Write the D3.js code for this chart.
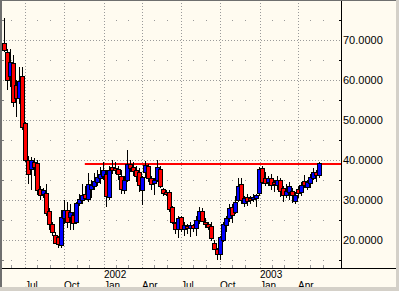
<!DOCTYPE html>
<html>
<head>
<meta charset="utf-8">
<script src="https://cdn.jsdelivr.net/npm/d3@7/dist/d3.min.js"></script>
<style>
  html, body { margin: 0; padding: 0; background: #d4d0c8; }
  svg { display: block; }
  text { font-family: "Liberation Sans", Arial, sans-serif; font-size: 11px; fill: #000; }
  text.qlabel, text.ylabel { font-size: 10px; }
</style>
</head>
<body>
<div id="chart"></div>
<script>
// weekly bars, first one on the week of 14 May 2001
const firstWeek = new Date(2001, 4, 14);

const opens = [
  69.3, 67.0, 61.0, 64.2, 58.7, 55.5, 61.0, 49.2, 40.0, 37.7,
  39.5, 39.2, 32.7, 31.5, 31.7, 27.2, 24.0, 21.2, 20.7, 18.7,
  25.5, 27.5, 25.7, 26.2, 24.5, 29.2, 30.0, 31.5, 30.2, 32.7,
  33.5, 34.5, 35.5, 36.0, 36.5, 30.7, 38.2, 38.0, 37.7, 36.0,
  32.5, 35.0, 39.0, 38.2, 37.5, 37.0, 32.5, 37.0, 38.5, 35.5,
  34.2, 35.0, 37.7, 32.7, 32.0, 32.0, 28.2, 24.2, 22.7, 25.7,
  22.7, 23.5, 23.0, 23.7, 23.0, 25.0, 27.2, 24.5, 24.0, 23.5,
  19.2, 17.7, 16.5, 20.0, 23.7, 25.5, 28.2, 27.0, 30.0, 34.0,
  29.2, 30.7, 30.5, 30.2, 30.5, 31.7, 38.0, 35.5, 34.5, 35.5,
  34.5, 33.7, 35.0, 33.0, 31.2, 32.0, 32.2, 29.7, 32.7, 32.0,
  34.7, 33.2, 34.2, 35.5, 37.0, 36.2
];
const highs = [
  75.5, 67.7, 67.7, 66.2, 60.0, 63.3, 63.3, 49.5, 41.0, 40.7,
  40.5, 40.0, 33.5, 33.0, 34.0, 28.0, 24.5, 22.0, 21.0, 27.5,
  30.0, 29.5, 29.0, 27.0, 29.5, 31.5, 34.0, 33.5, 36.7, 35.0,
  36.7, 37.5, 38.2, 39.5, 37.5, 38.5, 40.0, 39.5, 38.5, 37.5,
  36.0, 42.5, 40.0, 39.5, 38.5, 38.0, 36.0, 39.7, 39.0, 36.0,
  35.5, 40.0, 38.5, 33.0, 32.5, 32.5, 28.5, 24.5, 26.0, 26.0,
  24.5, 24.0, 24.5, 24.0, 26.0, 28.2, 28.0, 25.5, 24.5, 24.5,
  20.0, 18.0, 21.0, 24.5, 26.0, 29.0, 29.0, 31.0, 35.5, 35.5,
  31.0, 31.5, 31.0, 31.5, 31.5, 38.2, 38.5, 37.0, 36.0, 36.5,
  35.0, 36.0, 35.5, 33.5, 34.0, 34.5, 33.0, 32.0, 33.5, 34.5,
  36.2, 35.0, 36.5, 38.0, 37.5, 39.5
];
const lows = [
  67.0, 57.5, 58.2, 53.2, 50.8, 54.0, 47.5, 39.5, 34.0, 32.5,
  36.0, 31.3, 30.0, 30.5, 26.0, 22.5, 21.0, 19.0, 18.0, 18.0,
  24.0, 23.0, 22.5, 22.5, 24.0, 28.5, 29.0, 30.0, 29.5, 30.5,
  32.5, 33.5, 34.0, 35.0, 28.2, 30.0, 36.5, 36.5, 35.0, 31.5,
  31.5, 34.5, 37.0, 36.0, 34.5, 32.0, 28.7, 35.5, 34.5, 32.5,
  31.2, 34.5, 33.0, 31.0, 31.0, 27.0, 24.0, 21.5, 20.5, 22.0,
  21.0, 21.5, 20.7, 22.0, 21.0, 24.0, 24.5, 23.0, 22.5, 19.7,
  17.5, 15.0, 15.0, 19.5, 22.0, 24.5, 24.2, 26.5, 29.5, 29.0,
  28.2, 28.5, 29.0, 29.5, 28.2, 31.0, 34.0, 33.5, 33.5, 32.5,
  32.0, 32.5, 30.7, 29.5, 30.5, 30.0, 29.2, 29.0, 30.5, 31.0,
  33.0, 32.5, 33.0, 35.0, 34.5, 35.5
];
const closes = [
  67.5, 60.0, 64.5, 54.5, 55.5, 59.7, 48.3, 40.0, 36.5, 40.0,
  38.3, 32.5, 31.2, 32.5, 26.7, 24.0, 22.0, 19.2, 19.0, 25.7,
  27.5, 24.5, 27.0, 24.2, 29.2, 30.2, 31.2, 30.5, 34.0, 33.7,
  34.7, 35.7, 36.5, 37.5, 31.0, 37.5, 37.5, 37.5, 36.5, 32.7,
  35.0, 39.0, 38.0, 37.2, 36.0, 33.7, 35.7, 38.7, 35.5, 34.0,
  35.0, 38.2, 33.5, 31.7, 31.5, 27.7, 24.5, 22.7, 25.5, 22.7,
  23.7, 23.0, 23.7, 23.0, 25.0, 27.2, 24.7, 24.0, 23.2, 20.5,
  17.7, 16.5, 20.7, 24.0, 25.5, 28.0, 26.2, 29.5, 33.5, 30.0,
  30.5, 29.7, 30.0, 30.7, 31.2, 37.7, 34.5, 34.2, 35.5, 33.7,
  34.0, 35.0, 32.2, 31.2, 32.2, 33.5, 31.2, 31.2, 31.7, 33.7,
  33.7, 34.5, 35.7, 37.0, 36.2, 39.2
];

const priceTicks = [20, 30, 40, 50, 60, 70];
const quarterDates = [
  new Date(2001, 6, 1), new Date(2001, 9, 1), new Date(2002, 0, 1), new Date(2002, 3, 1),
  new Date(2002, 6, 1), new Date(2002, 9, 1), new Date(2003, 0, 1), new Date(2003, 3, 1)
];
const quarterLabels = ['Jul', 'Oct', 'Jan', 'Apr', 'Jul', 'Oct', 'Jan', 'Apr'];
const yearDates = [new Date(2002, 0, 1), new Date(2003, 0, 1)];
const yearLabels = ['2002', '2003'];

// horizontal resistance line
const resistanceLevel = 39.1;
const resistanceFrom = new Date(2001, 10, 18);

const width = 399, height = 291;
const panelW = 396, panelH = 287;
const plotRight = 341, plotBottom = 268;

const bars = opens.map((o, i) => ({
  date: d3.timeDay.offset(firstWeek, 7 * i),
  open: o, high: highs[i], low: lows[i], close: closes[i]
}));

const x = d3.scaleTime()
  .domain([quarterDates[0], quarterDates[quarterDates.length - 1]])
  .range([25, 298]);
const y = d3.scaleLinear().domain([13, 80]).range([plotBottom, 0]);

const svg = d3.select('#chart').append('svg')
  .attr('width', width)
  .attr('height', height);

svg.append('defs').append('clipPath').attr('id', 'plotClip')
  .append('rect').attr('x', 0).attr('y', 0).attr('width', plotRight).attr('height', plotBottom);
svg.append('defs').append('clipPath').attr('id', 'panelClip')
  .append('rect').attr('x', 0).attr('y', 0).attr('width', panelW).attr('height', panelH);

const panel = svg.append('g').attr('clip-path', 'url(#panelClip)');

panel.append('rect')
  .attr('width', panelW).attr('height', panelH)
  .attr('fill', '#fffbf0');

const plot = panel.append('g').attr('clip-path', 'url(#plotClip)');
const gridColor = '#9a9a9a';

// dotted grid at every 10
plot.selectAll('.hgrid')
  .data(priceTicks)
  .enter().append('line')
  .attr('class', 'hgrid')
  .attr('x1', 0).attr('x2', plotRight)
  .attr('y1', d => Math.round(y(d)) + 0.5)
  .attr('y2', d => Math.round(y(d)) + 0.5)
  .attr('stroke', gridColor)
  .attr('stroke-dasharray', '1,2');

plot.selectAll('.vgrid')
  .data(quarterDates)
  .enter().append('line')
  .attr('class', 'vgrid')
  .attr('x1', d => Math.round(x(d)) + 0.5)
  .attr('x2', d => Math.round(x(d)) + 0.5)
  .attr('y1', 0).attr('y2', plotBottom)
  .attr('stroke', gridColor)
  .attr('stroke-dasharray', '1,2');

// single dots where the other months meet the half levels
const otherMonths = d3.timeMonth.range(new Date(2001, 4, 1), new Date(2003, 5, 2))
  .filter(m => m.getMonth() % 3 !== 0);
const halfLevels = d3.range(15, 80, 10);
const dots = [];
otherMonths.forEach(m => halfLevels.forEach(l => dots.push([m, l])));
plot.selectAll('.dot')
  .data(dots)
  .enter().append('rect')
  .attr('class', 'dot')
  .attr('x', d => Math.round(x(d[0])) - 1)
  .attr('y', d => Math.round(y(d[1])))
  .attr('width', 1).attr('height', 1)
  .attr('fill', gridColor);

// month ticks on the time axis
panel.selectAll('.mtick')
  .data(otherMonths)
  .enter().append('line')
  .attr('class', 'mtick')
  .attr('x1', d => Math.round(x(d)) - 0.5)
  .attr('x2', d => Math.round(x(d)) - 0.5)
  .attr('y1', plotBottom - 3).attr('y2', plotBottom)
  .attr('stroke', gridColor);

// left edge ticks at the half levels
panel.selectAll('.ltick')
  .data(halfLevels)
  .enter().append('line')
  .attr('class', 'ltick')
  .attr('x1', 1).attr('x2', 4)
  .attr('y1', d => Math.round(y(d)) + 0.5)
  .attr('y2', d => Math.round(y(d)) + 0.5)
  .attr('stroke', '#808080');

// resistance line
plot.append('line')
  .attr('x1', x(resistanceFrom)).attr('x2', plotRight)
  .attr('y1', Math.round(y(resistanceLevel)))
  .attr('y2', Math.round(y(resistanceLevel)))
  .attr('stroke', '#ff0000')
  .attr('stroke-width', 2);

// candles
const candle = plot.selectAll('.candle')
  .data(bars)
  .enter().append('g')
  .attr('class', 'candle');

candle.append('line')
  .attr('x1', d => Math.round(x(d.date)) + 0.5)
  .attr('x2', d => Math.round(x(d.date)) + 0.5)
  .attr('y1', d => Math.round(y(d.high)))
  .attr('y2', d => Math.round(y(d.low)))
  .attr('stroke', '#000');

candle.append('rect')
  .attr('x', d => Math.round(x(d.date)) - 1.5)
  .attr('width', 4)
  .attr('y', d => Math.round(y(Math.max(d.open, d.close))) + 0.5)
  .attr('height', d => Math.max(1, Math.round(y(Math.min(d.open, d.close))) - Math.round(y(Math.max(d.open, d.close)))))
  .attr('fill', d => d.close >= d.open ? '#0000ff' : '#ff0000')
  .attr('stroke', '#000');

// price axis on the right
panel.append('line')
  .attr('x1', plotRight + 0.5).attr('x2', plotRight + 0.5)
  .attr('y1', 0).attr('y2', plotBottom)
  .attr('stroke', '#000');

panel.selectAll('.rtick')
  .data(halfLevels)
  .enter().append('line')
  .attr('class', 'rtick')
  .attr('x1', plotRight - 2).attr('x2', plotRight)
  .attr('y1', d => Math.round(y(d)) + 0.5)
  .attr('y2', d => Math.round(y(d)) + 0.5)
  .attr('stroke', '#000');

panel.selectAll('.plabel')
  .data(priceTicks)
  .enter().append('text')
  .attr('class', 'plabel')
  .attr('x', plotRight + 2)
  .attr('y', d => y(d) + 4)
  .text(d => d3.format('.4f')(d));

// time axis
panel.append('line')
  .attr('x1', 0).attr('x2', panelW)
  .attr('y1', plotBottom + 0.5).attr('y2', plotBottom + 0.5)
  .attr('stroke', '#000');

panel.selectAll('.qlabel')
  .data(quarterDates)
  .enter().append('text')
  .attr('class', 'qlabel')
  .attr('x', d => Math.round(x(d)))
  .attr('y', 289)
  .text((d, i) => quarterLabels[i]);

panel.selectAll('.ylabel')
  .data(yearDates)
  .enter().append('text')
  .attr('class', 'ylabel')
  .attr('x', d => Math.round(x(d)))
  .attr('y', 278)
  .text((d, i) => yearLabels[i]);

// sunken frame
panel.append('line')
  .attr('x1', 0).attr('x2', panelW).attr('y1', 0.5).attr('y2', 0.5)
  .attr('stroke', '#6f6f6f');
panel.append('line')
  .attr('x1', 1).attr('x2', 1).attr('y1', 0).attr('y2', panelH)
  .attr('stroke', '#6f6f6f').attr('stroke-width', 2);
</script>
</body>
</html>
